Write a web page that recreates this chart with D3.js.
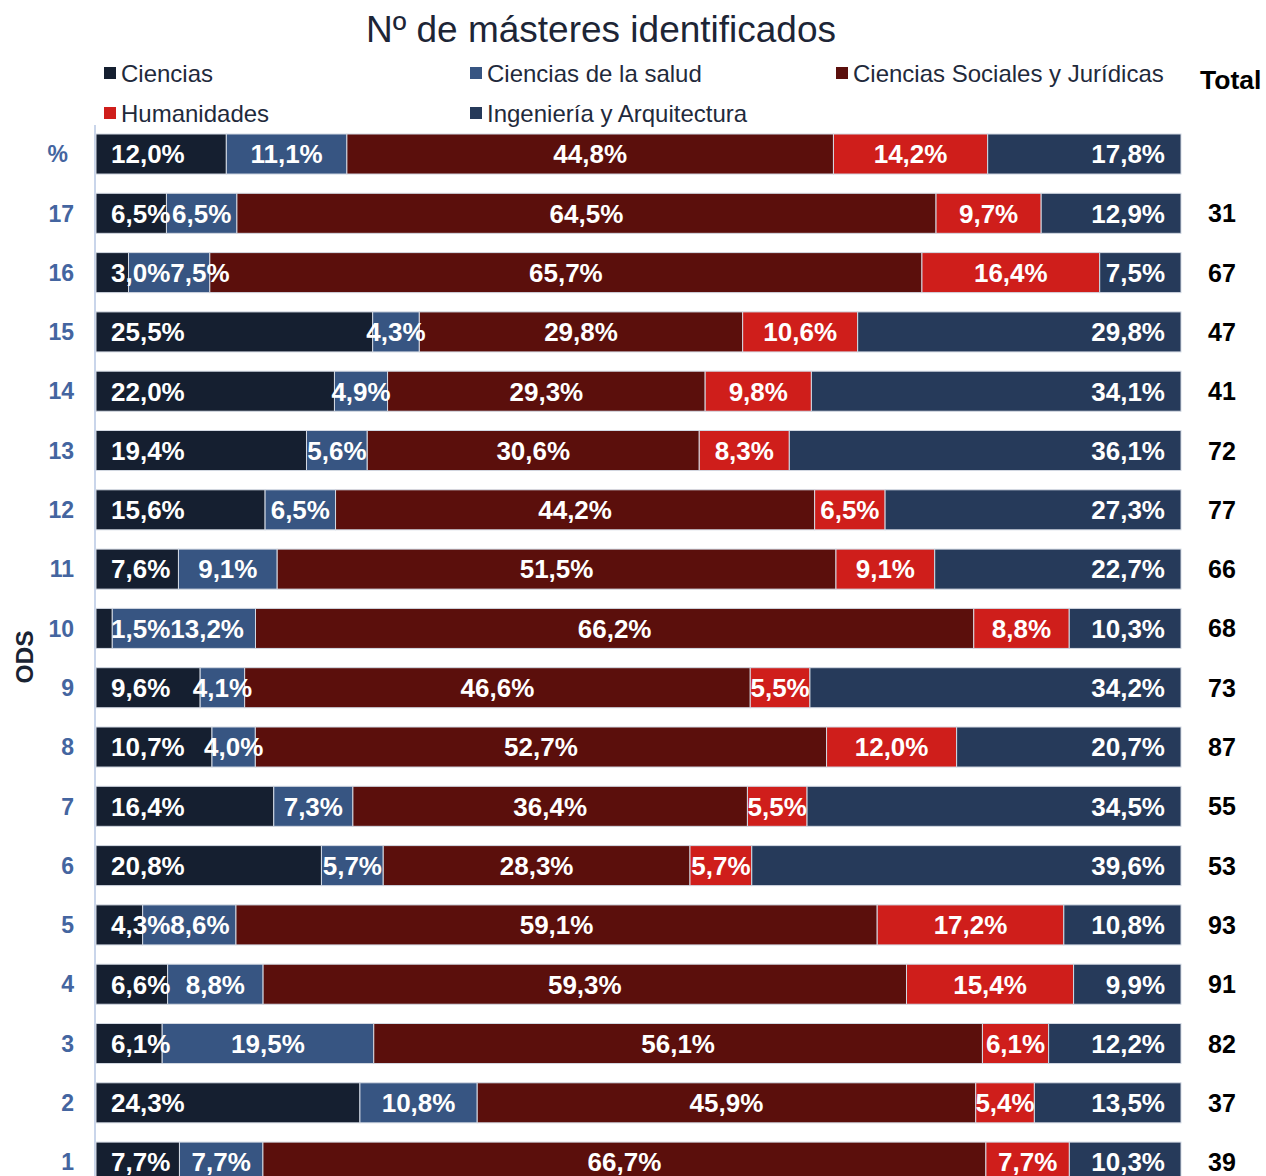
<!DOCTYPE html>
<html>
<head>
<meta charset="utf-8">
<script src="https://cdn.jsdelivr.net/npm/d3@7/dist/d3.min.js"></script>
<style>
  html, body { margin: 0; padding: 0; background: #fff; }
  svg { display: block; font-family: "Liberation Sans", Arial, sans-serif; }
</style>
</head>
<body>
<svg id="chart" width="1266" height="1176"></svg>
<script>
// ---- Data ----
const rows = ["%", "17", "16", "15", "14", "13", "12", "11", "10", "9", "8", "7", "6", "5", "4", "3", "2", "1"];
const seriesNames = ["Ciencias", "Ciencias de la salud", "Ciencias Sociales y Jurídicas", "Humanidades", "Ingeniería y Arquitectura"];
const ciencias     = [12.0, 6.5, 3.0, 25.5, 22.0, 19.4, 15.6, 7.6, 1.5, 9.6, 10.7, 16.4, 20.8, 4.3, 6.6, 6.1, 24.3, 7.7];
const salud        = [11.1, 6.5, 7.5, 4.3, 4.9, 5.6, 6.5, 9.1, 13.2, 4.1, 4.0, 7.3, 5.7, 8.6, 8.8, 19.5, 10.8, 7.7];
const sociales     = [44.8, 64.5, 65.7, 29.8, 29.3, 30.6, 44.2, 51.5, 66.2, 46.6, 52.7, 36.4, 28.3, 59.1, 59.3, 56.1, 45.9, 66.7];
const humanidades  = [14.2, 9.7, 16.4, 10.6, 9.8, 8.3, 6.5, 9.1, 8.8, 5.5, 12.0, 5.5, 5.7, 17.2, 15.4, 6.1, 5.4, 7.7];
const ingenieria   = [17.8, 12.9, 7.5, 29.8, 34.1, 36.1, 27.3, 22.7, 10.3, 34.2, 20.7, 34.5, 39.6, 10.8, 9.9, 12.2, 13.5, 10.3];
const totals       = [null, 31, 67, 47, 41, 72, 77, 66, 68, 73, 87, 55, 53, 93, 91, 82, 37, 39];
const colors = ["#151f30", "#375582", "#5b0f0c", "#cf1e1b", "#263a5a"];

const seriesValues = [ciencias, salud, sociales, humanidades, ingenieria];
const table = rows.map((r, i) => {
  const o = { row: r };
  seriesNames.forEach((s, k) => o[s] = seriesValues[k][i]);
  return o;
});
const stacked = d3.stack().keys(seriesNames).offset(d3.stackOffsetExpand)(table);

// ---- Layout ----
const svg = d3.select("#chart");
const x = d3.scaleLinear().domain([0, 1]).range([96, 1181]);
const step = 59.3;
const y = d3.scaleBand().domain(rows)
  .range([134 - 0.1625 * step, 134 - 0.1625 * step + rows.length * step])
  .paddingInner(0.325).paddingOuter(0.1625);

// Title
svg.append("text").attr("x", 601).attr("y", 42).attr("text-anchor", "middle")
  .attr("font-size", 37).attr("fill", "#1d2536").text("Nº de másteres identificados");

// Legend
const legendPos = [[104, 82], [470, 82], [836, 82], [104, 122], [470, 122]];
seriesNames.forEach((s, k) => {
  const [lx, ly] = legendPos[k];
  svg.append("rect").attr("x", lx).attr("y", ly - 15).attr("width", 12).attr("height", 12).attr("fill", colors[k]);
  svg.append("text").attr("x", lx + 17).attr("y", ly).attr("font-size", 24).attr("fill", "#1f2a3c").text(s);
});

svg.append("text").attr("x", 1200).attr("y", 89).attr("font-size", 26.5).attr("font-weight", "bold")
  .attr("fill", "#000").text("Total");

// Axis line
svg.append("line").attr("x1", 95).attr("x2", 95).attr("y1", 125).attr("y2", 1176)
  .attr("stroke", "#c9d5ea").attr("stroke-width", 2);

// Bars
const layers = svg.append("g").selectAll("g").data(stacked).join("g").attr("fill", (d, k) => colors[k]);
layers.selectAll("rect").data(d => d).join("rect")
  .attr("x", d => x(d[0])).attr("width", d => x(d[1]) - x(d[0]))
  .attr("y", d => y(d.data.row)).attr("height", y.bandwidth())
  .attr("stroke", "#d3d9e3").attr("stroke-width", 1);

// Y axis labels
const yAxis = d3.axisLeft(y).tickSize(0).tickPadding(0);
const yg = svg.append("g").attr("transform", "translate(74,0)").call(yAxis);
yg.select(".domain").remove();
yg.selectAll("text").attr("font-size", 23).attr("font-weight", "bold").attr("fill", "#4465a0")
  .attr("font-family", "Liberation Sans, Arial, sans-serif").attr("dy", "0.36em")
  .attr("dx", d => d === "%" ? -6 : 0);

// ODS axis title
svg.append("text").attr("transform", "translate(33,657) rotate(-90)").attr("text-anchor", "middle")
  .attr("font-size", 24.5).attr("font-weight", "bold").attr("fill", "#1a2333").text("ODS");

// Data labels with overlap pushing
const fmt = v => v.toFixed(1).replace(".", ",") + "%";
const labelG = svg.append("g");
rows.forEach((r, i) => {
  let prevEnd = -Infinity;
  const cy = y(r) + y.bandwidth() / 2;
  stacked.forEach((layer, k) => {
    const d = layer[i];
    const v = seriesValues[k][i];
    const t = labelG.append("text").attr("y", cy).attr("dy", "0.36em")
      .attr("font-size", 26).attr("font-weight", "bold").attr("fill", "#fff").text(fmt(v));
    const w = t.node().getComputedTextLength();
    let start;
    if (k === 0) start = x(d[0]) + 15;
    else if (k === stacked.length - 1) start = x(d[1]) - 16 - w;
    else start = (x(d[0]) + x(d[1])) / 2 - w / 2;
    if (start < prevEnd) start = prevEnd;
    t.attr("x", start);
    prevEnd = start + w;
  });
  if (totals[i] !== null) {
    svg.append("text").attr("x", 1222).attr("y", cy).attr("dy", "0.36em").attr("text-anchor", "middle")
      .attr("font-size", 25).attr("font-weight", "bold").attr("fill", "#000").text(totals[i]);
  }
});
</script>
</body>
</html>
